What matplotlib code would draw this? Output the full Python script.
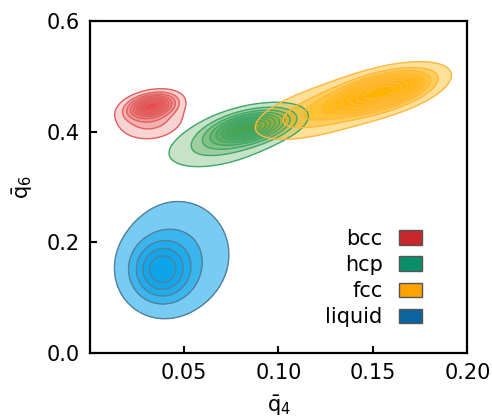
import numpy as np
import matplotlib.pyplot as plt
from matplotlib.patches import Patch

# phase names and legend colours
phases = ['bcc', 'hcp', 'fcc', 'liquid']
legend_colors = ['#c8282b', '#0b8f6a', '#ffa200', '#0b64a0']
fill_colors = ['#e53935', '#43a047', '#ffb300', '#0aa3ea']
line_colors = ['#e06060', '#3fa86b', '#ffb840', '#55809a']
fill_alpha = [0.22, 0.30, 0.40, 0.55]
n_levels = [10, 10, 10, 6]

# density model:
# (weight, mean q4, mean q6, sd q4, sd q6, rho)
bcc_parts = [(0.7, 0.0328, 0.446, 0.0065, 0.0115, 0.30),
             (0.3, 0.032, 0.425, 0.0095, 0.021, 0.10)]
hcp_parts = [(0.75, 0.085, 0.408, 0.0120, 0.0175, 0.45),
             (0.25, 0.070, 0.380, 0.016, 0.025, 0.45)]
fcc_parts = [(0.7, 0.155, 0.472, 0.0145, 0.0215, 0.55),
             (0.3, 0.125, 0.440, 0.020, 0.029, 0.60)]
liquid_parts = [(0.65, 0.038, 0.149, 0.0092, 0.032, 0.0),
                (0.35, 0.047, 0.178, 0.0140, 0.050, 0.0)]
all_parts = [bcc_parts, hcp_parts, fcc_parts, liquid_parts]

xs = np.linspace(0, 0.2, 500)
ys = np.linspace(0, 0.6, 500)
X, Y = np.meshgrid(xs, ys)


def density(parts):
    Z = np.zeros_like(X)
    for w, mx, my, sx, sy, r in parts:
        dx = (X - mx) / sx
        dy = (Y - my) / sy
        q = (dx ** 2 - 2 * r * dx * dy + dy ** 2) / (1 - r ** 2)
        Z += w * np.exp(-0.5 * q) / (2 * np.pi * sx * sy * np.sqrt(1 - r ** 2))
    return Z


def iso_levels(Z, n):
    # contour levels that enclose fixed shares of the mass, like seaborn kdeplot
    zs = np.sort(Z.ravel())[::-1]
    cm = np.cumsum(zs)
    cm /= cm[-1]
    shares = np.linspace(0.05, 1, n)[:-1]
    return [zs[np.searchsorted(cm, 1 - s)] for s in shares]


fig = plt.figure(figsize=(4.92, 4.19), dpi=100)
ax = fig.add_axes([0.182, 0.158, 0.768, 0.792])

for parts, fc, lc, a, n in zip(all_parts, fill_colors, line_colors, fill_alpha, n_levels):
    Z = density(parts)
    levs = iso_levels(Z, n)
    for lv in levs:
        ax.contourf(X, Y, Z, levels=[lv, Z.max() * 2], colors=[fc], alpha=a)
    ax.contour(X, Y, Z, levels=levs, colors=[lc], linewidths=1.0)

ax.set_xlim(0, 0.2)
ax.set_ylim(0, 0.6)
ax.set_xticks([0.05, 0.10, 0.15, 0.20])
ax.set_xticklabels(['0.05', '0.10', '0.15', '0.20'])
ax.set_yticks([0.0, 0.2, 0.4, 0.6])
ax.tick_params(direction='in', length=5, width=1.5, labelsize=15, pad=7)
for s in ax.spines.values():
    s.set_linewidth(1.6)
ax.set_xlabel(r'$\bar{\mathrm{q}}_4$', fontsize=15, labelpad=8)
ax.set_ylabel(r'$\bar{\mathrm{q}}_6$', fontsize=15, labelpad=8)

handles = [Patch(facecolor=c, edgecolor='#555555', label=p)
           for p, c in zip(phases, legend_colors)]
ax.legend(handles=handles, loc='lower right', bbox_to_anchor=(0.93, 0.02),
          frameon=False, markerfirst=False, fontsize=15, labelspacing=0.3,
          handlelength=1.1, handletextpad=0.8)

fig.savefig('out.png', dpi=100)
